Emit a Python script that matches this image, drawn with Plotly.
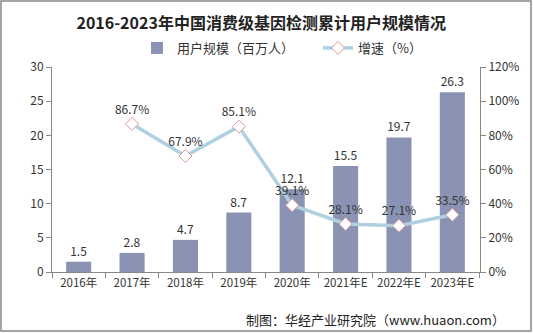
import plotly.graph_objects as go

years = ["2016年", "2017年", "2018年", "2019年", "2020年", "2021年E", "2022年E", "2023年E"]
users = [1.5, 2.8, 4.7, 8.7, 12.1, 15.5, 19.7, 26.3]
growth_years = ["2017年", "2018年", "2019年", "2020年", "2021年E", "2022年E", "2023年E"]
growth = [86.7, 67.9, 85.1, 39.1, 28.1, 27.1, 33.5]

W, H = 533, 333
ml, mr, mt, mb = 52, 53, 67, 61
pw, ph = W - ml - mr, H - mt - mb

fig = go.Figure()
fig.add_trace(go.Bar(
    x=years, y=users, name="用户规模（百万人）",
    marker=dict(color="#8a93b4", line=dict(width=0)),
    width=0.47, legend="legend",
    text=[f"{v}" for v in users], textposition="outside",
    textfont=dict(size=12, color="#333"), cliponaxis=False,
))
fig.add_trace(go.Scatter(
    x=growth_years, y=growth, name="增速（%）", yaxis="y2", legend="legend2",
    mode="lines+markers+text",
    line=dict(color="#aed0e0", width=3.5),
    marker=dict(symbol="diamond", size=10, color="white", line=dict(color="#d99a9a", width=1)),
    text=[f"{v}%" for v in growth], textposition="top center",
    textfont=dict(size=12, color="#333"), cliponaxis=False,
))

leg_y = 1.0 + 19 / ph
fig.update_layout(
    width=W, height=H,
    margin=dict(l=ml, r=mr, t=mt, b=mb),
    paper_bgcolor="white", plot_bgcolor="white",
    font=dict(family="Noto Sans CJK SC, Arial", size=12, color="#333"),
    title=dict(text="<b>2016-2023年中国消费级基因检测累计用户规模情况</b>",
               x=0.49, xanchor="center", y=0.93, yanchor="middle",
               font=dict(size=16, color="#222", family="Noto Sans CJK SC")),
    legend=dict(orientation="h", x=(137 - ml) / pw, xanchor="left", y=leg_y, yanchor="middle",
                font=dict(size=13), itemwidth=30, bgcolor="rgba(0,0,0,0)"),
    legend2=dict(orientation="h", x=(318 - ml) / pw, xanchor="left", y=leg_y, yanchor="middle",
                 font=dict(size=13), itemwidth=30, bgcolor="rgba(0,0,0,0)"),
    bargap=0.5,
    showlegend=True,
    xaxis=dict(showline=True, linecolor="#888", ticks="outside", tickson="boundaries",
               ticklen=5, tickcolor="#888", tickfont=dict(size=11.5, color="#333"),
               tickangle=0, showgrid=False),
    yaxis=dict(range=[0, 30], dtick=5, showline=True, linecolor="#888", ticks="outside",
               ticklen=5, tickcolor="#888", showgrid=False, zeroline=False,
               tickfont=dict(size=12, color="#333")),
    yaxis2=dict(range=[0, 120], dtick=20, overlaying="y", side="right", ticksuffix="%",
                showline=True, linecolor="#888", ticks="outside", ticklen=5, tickcolor="#888",
                showgrid=False, zeroline=False, tickfont=dict(size=12, color="#333")),
)

fig.add_shape(type="rect", xref="paper", yref="paper",
              x0=-(ml - 1) / pw, x1=1 + (mr - 2) / pw, y0=-(mb - 2) / ph, y1=1 + (mt - 1) / ph,
              line=dict(color="#888", width=1.5), fillcolor="rgba(0,0,0,0)", layer="below")

fig.add_annotation(text="制图：华经产业研究院（www.huaon.com）", xref="paper", yref="paper",
                   x=1 + 27 / pw, xanchor="right", y=-(319 - mt - ph) / ph, yanchor="middle",
                   showarrow=False, font=dict(size=13, color="#222"))

fig.write_html("out.html")
